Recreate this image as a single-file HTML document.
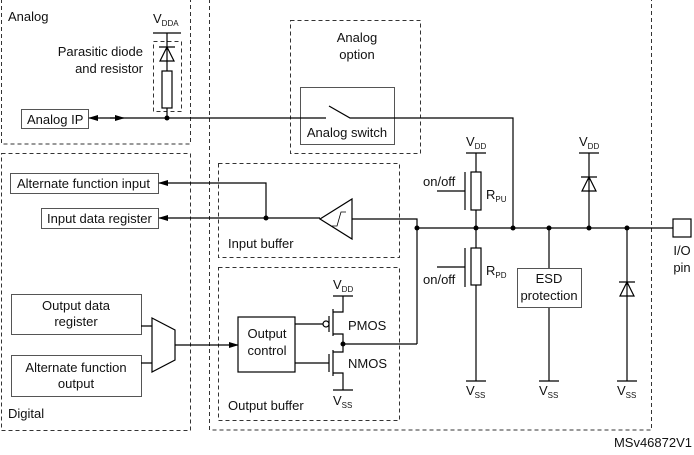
<!DOCTYPE html>
<html><head><meta charset="utf-8"><style>
html,body{margin:0;padding:0;background:#fff;}
svg{display:block;font-family:"Liberation Sans",sans-serif;}
text{font-size:13px;fill:#111;}
.s{font-size:8px;}
</style></head><body>
<svg width="694" height="455" viewBox="0 0 694 455" xmlns="http://www.w3.org/2000/svg">
<defs>
<marker id="a" markerWidth="10" markerHeight="8" refX="9" refY="4" orient="auto" markerUnits="userSpaceOnUse"><path d="M0,1 L10,4 L0,7 Z" fill="#000"/></marker>
</defs>
<g fill="none" stroke="#333" stroke-width="1" stroke-dasharray="4,3">
<rect x="1.5" y="-2" width="189" height="146"/>
<rect x="1.5" y="153.5" width="189" height="277"/>
<rect x="209.5" y="-2" width="442" height="432"/>
<rect x="290.5" y="20.5" width="130" height="133"/>
<rect x="218.5" y="163.5" width="181" height="94"/>
<rect x="218.5" y="267.5" width="181" height="153"/>
<rect x="153.5" y="41.5" width="28" height="70"/>
</g>
<g fill="#fff" stroke="#555" stroke-width="1">
<rect x="21.5" y="109.5" width="67" height="19"/>
<rect x="300.5" y="87.5" width="94" height="57"/>
<rect x="10.5" y="173.5" width="148" height="20"/>
<rect x="41.5" y="208.5" width="117" height="20"/>
<rect x="11.5" y="294.5" width="130" height="40"/>
<rect x="11.5" y="355.5" width="130" height="41"/>
<rect x="517.5" y="268.5" width="64" height="39"/>
</g>
<g fill="none" stroke="#000" stroke-width="1.2">
<path d="M100,118 H326 M329,106 L350,118 H513 V228"/>
<path d="M100,118 H89" marker-end="url(#a)"/>
<path d="M110,118 H124" marker-end="url(#a)"/>
<path d="M153,33 H181 M167,33 V71 M160,61 L167,47 L174,61 Z M159,47 H175"/>
<rect x="162" y="71" width="10" height="37"/>
<path d="M167,108 V118"/>
<path d="M266,218 V183 H159" marker-end="url(#a)"/>
<path d="M320,218 H159" marker-end="url(#a)"/>
<path d="M320,219 L352,199 L352,239 Z"/>
<path d="M332,226 H337 L341,212 H346" stroke-width="0.8"/>
<path d="M352,219 H417 V344"/>
<path d="M417,228 H673"/>
<rect x="673" y="219" width="18" height="18" fill="#fff"/>
<path d="M466,153 H486 M476,153 V172 M476,210 V248 M476,285 V381 M466,381 H486"/>
<rect x="471" y="172" width="10" height="38"/>
<rect x="471" y="248" width="10" height="37"/>
<path d="M465,172 V210 M437,191 H465 M465,248 V287 M437,267 H465"/>
<path d="M549,228 V268 M549,308 V381 M539,381 H559"/>
<path d="M579,153 H599 M589,153 V228 M582,191 L589,177 L596,191 Z M581,177 H597"/>
<path d="M627,228 V381 M617,381 H637 M620,296 L627,282 L634,296 Z M619,282 H635"/>
<path d="M141,326 H152 M141,363 H152 M152,318 L175,330 L175,360 L152,372 Z"/>
<path d="M175,345 H238" marker-end="url(#a)"/>
<rect x="238" y="317" width="57" height="55" fill="#fff"/>
<path d="M295,324 H323 M329,316 V332 M333,309 V336 M333,312 H343 V296 M333,296 H353 M333,334 H343 V344 H417"/>
<circle cx="326" cy="324" r="3" fill="#fff"/>
<path d="M295,363 H329 M329,354 V372 M333,350 V376 M333,352 H343 V344 M333,373 H343 V390 M333,390 H353"/>
</g>
<g fill="#000">
<circle cx="167" cy="118" r="2.5"/>
<circle cx="266" cy="218" r="2.5"/>
<circle cx="417" cy="228" r="2.5"/>
<circle cx="476" cy="228" r="2.5"/>
<circle cx="513" cy="228" r="2.5"/>
<circle cx="549" cy="228" r="2.5"/>
<circle cx="589" cy="228" r="2.5"/>
<circle cx="627" cy="228" r="2.5"/>
<circle cx="343" cy="344" r="2.5"/>
</g>
<text x="8" y="21">Analog</text>
<text x="8" y="418">Digital</text>
<text x="143" y="56" text-anchor="end">Parasitic diode</text>
<text x="143" y="73" text-anchor="end">and resistor</text>
<text x="153" y="23">V<tspan class="s" dy="3">DDA</tspan></text>
<text x="27" y="124">Analog IP</text>
<text x="357" y="42" text-anchor="middle">Analog</text>
<text x="357" y="59" text-anchor="middle">option</text>
<text x="347" y="137" text-anchor="middle">Analog switch</text>
<text x="17" y="188">Alternate function input</text>
<text x="47" y="223">Input data register</text>
<text x="228" y="248">Input buffer</text>
<text x="228" y="410">Output buffer</text>
<text x="76" y="310" text-anchor="middle">Output data</text>
<text x="76" y="326" text-anchor="middle">register</text>
<text x="76" y="372" text-anchor="middle">Alternate function</text>
<text x="76" y="388" text-anchor="middle">output</text>
<text x="267" y="338" text-anchor="middle">Output</text>
<text x="267" y="355" text-anchor="middle">control</text>
<text x="333" y="289">V<tspan class="s" dy="3">DD</tspan></text>
<text x="348" y="330">PMOS</text>
<text x="348" y="368">NMOS</text>
<text x="333" y="405">V<tspan class="s" dy="3">SS</tspan></text>
<text x="423" y="186">on/off</text>
<text x="423" y="284">on/off</text>
<text x="486" y="199">R<tspan class="s" dy="3">PU</tspan></text>
<text x="486" y="275">R<tspan class="s" dy="3">PD</tspan></text>
<text x="466" y="146">V<tspan class="s" dy="3">DD</tspan></text>
<text x="579" y="146">V<tspan class="s" dy="3">DD</tspan></text>
<text x="466" y="395">V<tspan class="s" dy="3">SS</tspan></text>
<text x="539" y="395">V<tspan class="s" dy="3">SS</tspan></text>
<text x="617" y="395">V<tspan class="s" dy="3">SS</tspan></text>
<text x="549" y="283" text-anchor="middle">ESD</text>
<text x="549" y="300" text-anchor="middle">protection</text>
<text x="682" y="255" text-anchor="middle">I/O</text>
<text x="682" y="272" text-anchor="middle">pin</text>
<text x="692" y="447" text-anchor="end">MSv46872V1</text>
</svg>
</body></html>
